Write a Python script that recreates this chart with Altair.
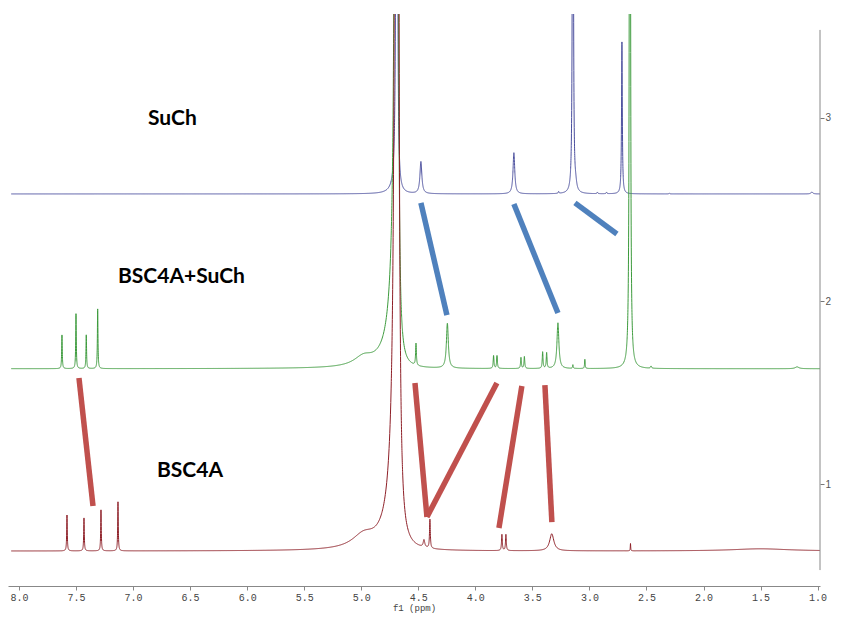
import numpy as np
import pandas as pd
import altair as alt

# ---- spectra: peak lists (ppm, height above baseline, half width) ----
series_names = ["SuCh", "BSC4A+SuCh", "BSC4A"]
series_colors = ["#4b4f9e", "#3d9b3d", "#8e1f27"]
baselines = [2.585, 1.63, 0.634]

# water (HDO) line of each spectrum: centre, height, half widths on the high-ppm / low-ppm side,
# plus a broad foot on the high-ppm side only (height, half width)
hdo_center = [4.688, 4.688, 4.687]
hdo_height = [300.0, 300.0, 300.0]
hdo_width_left = [0.0007, 0.0020, 0.00224]
hdo_width_right = [0.0006, 0.00129, 0.00187]
hdo_foot_height = [0.03, 0.35, 0.45]
hdo_foot_width = [0.04, 0.07, 0.07]

such_centers = [4.477, 3.662, 3.145, 3.12, 2.715, 3.27, 2.93, 2.85, 2.30, 1.05]
such_heights = [0.175, 0.225, 6.0, 0.03, 0.83, 0.01, 0.008, 0.008, 0.004, 0.01]
such_widths = [0.010, 0.009, 0.003, 0.01, 0.004, 0.004, 0.004, 0.004, 0.004, 0.01]

mix_centers = [4.98, 7.623, 7.50, 7.41, 7.31, 4.52, 4.245, 3.84, 3.81, 3.60, 3.57,
               3.41, 3.375, 3.276, 3.145, 3.04, 2.645, 2.46, 1.18]
mix_heights = [0.05, 0.184, 0.30, 0.184, 0.326, 0.12, 0.245, 0.07, 0.07, 0.06, 0.065,
               0.09, 0.085, 0.25, 0.02, 0.05, 10.0, 0.012, 0.01]
mix_widths = [0.1, 0.003, 0.003, 0.003, 0.003, 0.004, 0.010, 0.004, 0.004, 0.004, 0.004,
              0.004, 0.004, 0.010, 0.003, 0.003, 0.0032, 0.005, 0.02]

host_centers = [4.98, 7.579, 7.43, 7.281, 7.132, 4.398, 4.45, 3.767, 3.732, 3.33, 2.64, 1.5]
host_heights = [0.07, 0.196, 0.18, 0.224, 0.268, 0.158, 0.04, 0.088, 0.088, 0.093, 0.04, 0.012]
host_widths = [0.12, 0.003, 0.003, 0.003, 0.003, 0.004, 0.008, 0.004, 0.004, 0.022, 0.002, 0.3]

peak_lists = [
    (such_centers, such_heights, such_widths),
    (mix_centers, mix_heights, mix_widths),
    (host_centers, host_heights, host_widths),
]

ppm_low, ppm_high = 0.94, 8.07

# ---- annotation connector lines (ppm, intensity) ----
link_x1 = [4.477, 3.662, 3.127, 7.474, 4.529, 3.811, 3.592, 3.390]
link_y1 = [2.536, 2.530, 2.536, 1.579, 1.552, 1.552, 1.536, 1.541]
link_x2 = [4.249, 3.276, 2.759, 7.351, 4.424, 4.424, 3.793, 3.329]
link_y2 = [1.923, 1.934, 2.366, 0.880, 0.820, 0.820, 0.760, 0.792]
link_colors = ["#4f81bd"] * 3 + ["#c0504d"] * 5

# ---- labels ----
label_text = ["SuCh", "BSC4A+SuCh", "BSC4A"]
label_x = [6.869, 7.132, 6.79]
label_y = [2.962, 2.098, 1.038]

x_ticks = [8.0, 7.75, 7.5, 7.25, 7.0, 6.75, 6.5, 6.25, 6.0, 5.75, 5.5, 5.25, 5.0, 4.75, 4.5,
           4.25, 4.0, 3.75, 3.5, 3.25, 3.0, 2.75, 2.5, 2.25, 2.0, 1.75, 1.5, 1.25, 1.0]
y_ticks = [1, 2, 3]

x_domain = [0.979, 8.096]
y_domain = [0.443, 3.568]


def build_spectrum(i):
    centers, heights, widths = peak_lists[i]
    base = baselines[i]
    parts = [np.arange(ppm_low, ppm_high, 0.003)]
    for c, w in zip(list(centers) + [hdo_center[i]], list(widths) + [0.002]):
        if w < 0.02:
            parts.append(np.linspace(c - 0.05, c + 0.05, 201))
    x = np.unique(np.round(np.concatenate(parts), 5))
    x = x[(x >= ppm_low) & (x <= ppm_high)]
    c = np.array(centers)[:, None]
    h = np.array(heights)[:, None]
    w = np.array(widths)[:, None]
    y = base + (h * w ** 2 / ((x[None, :] - c) ** 2 + w ** 2)).sum(axis=0)
    hc = hdo_center[i]
    hw = np.where(x > hc, hdo_width_left[i], hdo_width_right[i])
    y = y + hdo_height[i] * hw ** 2 / ((x - hc) ** 2 + hw ** 2)
    fw = hdo_foot_width[i]
    foot = hdo_foot_height[i] * fw ** 2 / ((x - hc) ** 2 + fw ** 2)
    y = y + np.where(x > hc, foot, 0.0)
    y = np.minimum(y, 3.65)
    return x, y


frames = []
for i, (name, col) in enumerate(zip(series_names, series_colors)):
    x, y = build_spectrum(i)
    frames.append(pd.DataFrame({"ppm": np.round(x, 5), "val": np.round(y, 5), "series": name, "col": col}))
spec_df = pd.concat(frames, ignore_index=True)

link_df = pd.DataFrame({"ppm": link_x1, "val": link_y1, "ppm2": link_x2, "val2": link_y2, "col": link_colors})
label_df = pd.DataFrame({"ppm": label_x, "val": label_y, "text": label_text})

x_scale = alt.Scale(domain=x_domain, reverse=True, nice=False, zero=False)
y_scale = alt.Scale(domain=y_domain, nice=False, zero=False)

x_axis = alt.Axis(
    values=x_ticks,
    labelExpr="datum.value % 0.5 == 0 ? format(datum.value, '.1f') : ''",
    grid=False, domain=True, domainColor="#888888", tickColor="#888888", tickSize=4,
    labelFont="Liberation Mono", labelFontSize=10, labelColor="#444444", labelPadding=2,
    title="f1 (ppm)", titleFont="Liberation Mono", titleFontSize=9, titleFontWeight="normal",
    titleColor="#444444", titlePadding=1,
)
y_axis = alt.Axis(
    orient="right", values=y_ticks, format="d", grid=False, domain=False, tickSize=4,
    tickColor="#777777", labelFontSize=10, labelColor="#555555", labelPadding=1, title=None,
    labelFont="Liberation Sans",
)

lines = alt.Chart(spec_df).mark_line(strokeWidth=1, clip=True).encode(
    x=alt.X("ppm:Q", scale=x_scale, axis=x_axis),
    y=alt.Y("val:Q", scale=y_scale, axis=y_axis),
    color=alt.Color("col:N", scale=None),
    detail="series:N",
)

yline = alt.Chart(pd.DataFrame({"a": [0]})).mark_rule(color="#888888", strokeWidth=1).encode(
    x=alt.value(812), y=alt.datum(3.481), y2=alt.datum(0.530)
)

links = alt.Chart(link_df).mark_rule(strokeWidth=5.5, strokeCap="butt").encode(
    x="ppm:Q", y="val:Q", x2="ppm2:Q", y2="val2:Q",
    color=alt.Color("col:N", scale=None),
)

labels = alt.Chart(label_df).mark_text(
    align="left", baseline="alphabetic", font="Lato", fontSize=21, fontWeight="bold", color="black"
).encode(x="ppm:Q", y="val:Q", text="text:N")

chart = alt.layer(lines, yline, links, labels).properties(
    width=812, height=572,
    autosize=alt.AutoSizeParams(type="none"),
    padding={"left": 0, "top": 6, "right": 14, "bottom": 29},
).configure_view(stroke=None)

chart.save("out.html", embed_options={"renderer": "svg", "actions": False})
